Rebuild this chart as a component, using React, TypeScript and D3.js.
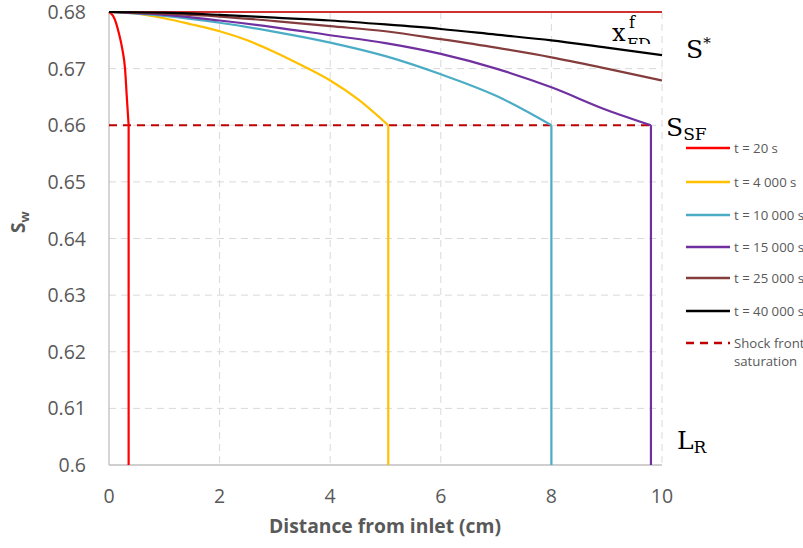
import React from "react";
import * as d3 from "d3";

const xTicks = [0, 2, 4, 6, 8, 10];
const yTicks = [0.6, 0.61, 0.62, 0.63, 0.64, 0.65, 0.66, 0.67, 0.68];

const red20X = [0, 0.04, 0.08, 0.13, 0.18, 0.24, 0.29, 0.325, 0.355];
const red20Y = [0.68, 0.6797, 0.6792, 0.678, 0.6762, 0.6735, 0.67, 0.6645, 0.66];
const y4000X = [0, 0.5, 1, 1.5, 2, 2.5, 3, 3.5, 4, 4.5, 5.05];
const y4000Y = [0.68, 0.6797, 0.6789, 0.6778, 0.6766, 0.675, 0.6729, 0.6705, 0.6679, 0.6646, 0.66];
const c10000X = [0, 1, 2, 3, 4, 5, 6, 7, 8];
const c10000Y = [0.68, 0.6793, 0.6781, 0.6765, 0.6746, 0.6722, 0.669, 0.6652, 0.66];
const p15000X = [0, 1, 2, 3, 4, 5, 6, 7, 8, 9, 9.8];
const p15000Y = [0.68, 0.6795, 0.6785, 0.6773, 0.6759, 0.6745, 0.6726, 0.67, 0.6667, 0.6627, 0.66];
const b25000X = [0, 1, 2, 3, 4, 5, 6, 7, 8, 9, 10];
const b25000Y = [0.68, 0.6797, 0.6792, 0.6784, 0.6775, 0.6766, 0.6752, 0.6737, 0.672, 0.67, 0.6679];
const k40000X = [0, 1, 2, 3, 4, 5, 6, 7, 8, 9, 10];
const k40000Y = [0.68, 0.6799, 0.6795, 0.679, 0.6785, 0.6778, 0.677, 0.676, 0.675, 0.6737, 0.6724];

const shockSat = 0.66;
const shockEnd = 9.8;
const topSat = 0.68;

const seriesLabels = ["t = 20 s", "t = 4 000 s", "t = 10 000 s", "t = 15 000 s", "t = 25 000 s", "t = 40 000 s"];
const seriesColors = ["#ff0000", "#ffc000", "#4bacc6", "#7030a0", "#843c3c", "#000000"];
const seriesX = [red20X, y4000X, c10000X, p15000X, b25000X, k40000X];
const seriesY = [red20Y, y4000Y, c10000Y, p15000Y, b25000Y, k40000Y];
const seriesFront = [true, true, true, true, false, false];

export default function App() {
  const W = 803, H = 548;
  const x = d3.scaleLinear().domain([0, 10]).range([109, 662]);
  const y = d3.scaleLinear().domain([0.6, 0.68]).range([465, 12]);
  const line = d3.line<[number, number]>().x(d => x(d[0])).y(d => y(d[1])).curve(d3.curveMonotoneX);
  const font = "'Open Sans', sans-serif";
  const grey = "#595959";
  const legendY = [148, 182, 215, 247, 278, 311, 343];
  const serif = "'DejaVu Serif', serif";

  return (
    <svg width={W} height={H} style={{ position: "absolute", left: 0, top: 0 }}>
      <defs>
        <clipPath id="fdclip"><rect x={600} y={0} width={80} height={44} /></clipPath>
      </defs>
      {xTicks.filter(t => t > 0).map(t => (
        <line key={"gx" + t} x1={x(t)} x2={x(t)} y1={y(0.68)} y2={y(0.6)} stroke="#d9d9d9" strokeDasharray="7,5" />
      ))}
      {yTicks.filter(t => t > 0.6).map(t => (
        <line key={"gy" + t} x1={x(0)} x2={x(10)} y1={y(t)} y2={y(t)} stroke="#d9d9d9" strokeDasharray="7,5" />
      ))}
      <line x1={x(0)} x2={x(0)} y1={y(0.68)} y2={y(0.6)} stroke="#bfbfbf" strokeWidth={1.3} />
      <line x1={x(0)} x2={x(10)} y1={y(0.6)} y2={y(0.6)} stroke="#bfbfbf" strokeWidth={1.3} />
      {yTicks.map(t => (
        <text key={"ty" + t} x={86} y={y(t)} dy="0.36em" textAnchor="end" fontFamily={font} fontSize={19.5} fill={grey}>
          {t === 0.6 ? "0.6" : t.toFixed(2)}
        </text>
      ))}
      {xTicks.map(t => (
        <text key={"tx" + t} x={x(t)} y={503} textAnchor="middle" fontFamily={font} fontSize={19.5} fill={grey}>{t}</text>
      ))}
      <text x={385} y={533} textAnchor="middle" fontFamily={font} fontWeight="bold" fontSize={19.3} fill={grey}>Distance from inlet (cm)</text>
      <text transform="translate(25,233) rotate(-90)" fontFamily={font} fontWeight="bold" fontSize={19} fill={grey}>
        S<tspan fontSize={13} dy={4}>w</tspan>
      </text>

      <line x1={x(0)} x2={x(10)} y1={y(topSat)} y2={y(topSat)} stroke="#d03030" strokeWidth={2} />
      <line x1={x(0)} x2={x(shockEnd)} y1={y(shockSat)} y2={y(shockSat)} stroke="#c00000" strokeWidth={2.2} strokeDasharray="8,6" />

      {seriesX.map((xs, i) => {
        const pts: [number, number][] = xs.map((v, j) => [v, seriesY[i][j]]);
        const last = pts[pts.length - 1];
        return (
          <g key={"s" + i}>
            <path d={line(pts) || ""} fill="none" stroke={seriesColors[i]} strokeWidth={2.2} />
            {seriesFront[i] && (
              <line x1={x(last[0])} x2={x(last[0])} y1={y(last[1])} y2={y(0.6)} stroke={seriesColors[i]} strokeWidth={2.2} />
            )}
          </g>
        );
      })}

      {seriesLabels.map((lab, i) => (
        <g key={"l" + i}>
          <line x1={686} x2={730} y1={legendY[i]} y2={legendY[i]} stroke={seriesColors[i]} strokeWidth={2.5} />
          <text x={734} y={legendY[i]} dy="0.35em" fontFamily={font} fontSize={13.2} fill={grey}>{lab}</text>
        </g>
      ))}
      <line x1={686} x2={730} y1={legendY[6]} y2={legendY[6]} stroke="#c00000" strokeWidth={2.5} strokeDasharray="8,6" />
      <text x={734} y={legendY[6]} dy="0.35em" fontFamily={font} fontSize={13.2} fill={grey}>Shock front</text>
      <text x={734} y={legendY[6] + 18} dy="0.35em" fontFamily={font} fontSize={13.2} fill={grey}>saturation</text>

      <g clipPath="url(#fdclip)" fontFamily={serif} fill="#000">
        <text x={612} y={41} fontSize={24}>x</text>
        <text x={629} y={28} fontSize={16}>f</text>
        <text x={627} y={50} fontSize={16}>FD</text>
      </g>
      <text x={686} y={58} fontFamily={serif} fontSize={25}>S<tspan fontSize={15} dy={-10}>*</tspan></text>
      <text x={666} y={136} fontFamily={serif} fontSize={25}>S<tspan fontSize={17} dy={4}>SF</tspan></text>
      <text x={677} y={449} fontFamily={serif} fontSize={25}>L<tspan fontSize={17} dy={4}>R</tspan></text>
    </svg>
  );
}
